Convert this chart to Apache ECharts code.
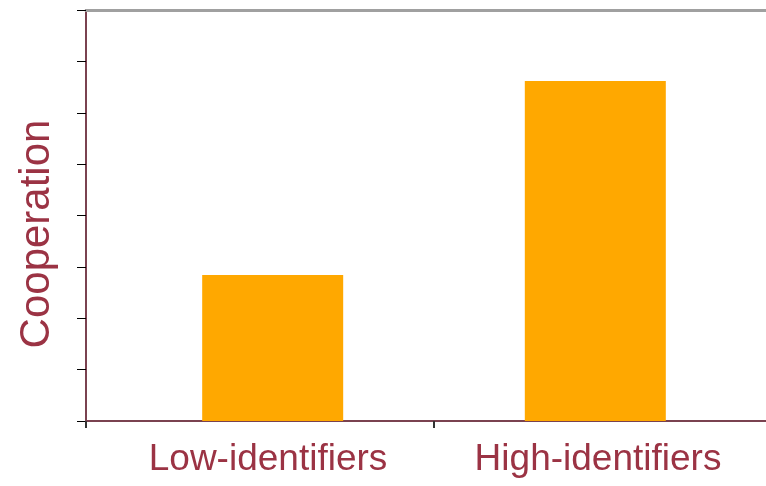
<!DOCTYPE html>
<html>
<head>
<meta charset="utf-8">
<script src="https://cdn.jsdelivr.net/npm/echarts@6/dist/echarts.min.js"></script>
<style>
  html, body { margin: 0; padding: 0; background: #fff; }
  #chart { width: 766px; height: 486px; }
</style>
</head>
<body>
<div id="chart"></div>
<script>
// Group labels and mean cooperation per group
const categories = ['Low-identifiers', 'High-identifiers'];
const lowValues = [2.84, '-'];
const highValues = ['-', 6.62];
const axisName = 'Cooperation';

const maroon = '#9b3344';
const barColor = '#ffa800';

const chart = echarts.init(document.getElementById('chart'), null, { renderer: 'canvas' });

chart.setOption({
  animation: false,
  backgroundColor: '#ffffff',
  grid: {
    left: 86, right: -16, top: 10, bottom: 65,
    containLabel: false,
    outerBoundsMode: 'none'
  },
  xAxis: [
    {
      type: 'category',
      data: [
        { value: categories[0], textStyle: { padding: [0, 0, 0, 16] } },
        { value: categories[1], textStyle: { padding: [0, 20, 0, 0] } }
      ],
      position: 'bottom',
      axisLine: { lineStyle: { color: '#7a4250', width: 2 } },
      axisTick: { show: true, length: 7, lineStyle: { color: '#333', width: 2 } },
      axisLabel: {
        color: maroon,
        fontFamily: 'Liberation Sans',
        fontSize: 37,
        margin: 20
      },
      splitLine: { show: false }
    },
    {
      type: 'category',
      data: categories,
      position: 'top',
      axisLine: { lineStyle: { color: '#a0a0a0', width: 3 } },
      axisTick: { show: false },
      axisLabel: { show: false }
    }
  ],
  yAxis: {
    type: 'value',
    min: 0,
    max: 8,
    interval: 1,
    name: axisName,
    nameLocation: 'middle',
    nameGap: 28,
    nameRotate: 90,
    nameTextStyle: {
      color: maroon,
      fontFamily: 'Liberation Sans',
      fontSize: 42,
      padding: [0, 37, 0, 0]
    },
    axisLine: { show: true, lineStyle: { color: '#7a4250', width: 2 } },
    axisTick: { show: true, length: 9, lineStyle: { color: '#000', width: 1 } },
    axisLabel: { show: false },
    splitLine: { show: false }
  },
  series: [
    {
      type: 'bar',
      data: highValues,
      barWidth: 141,
      barGap: '-82%',
      itemStyle: { color: barColor }
    },
    {
      type: 'bar',
      data: lowValues,
      barWidth: 141,
      barGap: '-82%',
      itemStyle: { color: barColor }
    }
  ]
});
</script>
</body>
</html>
